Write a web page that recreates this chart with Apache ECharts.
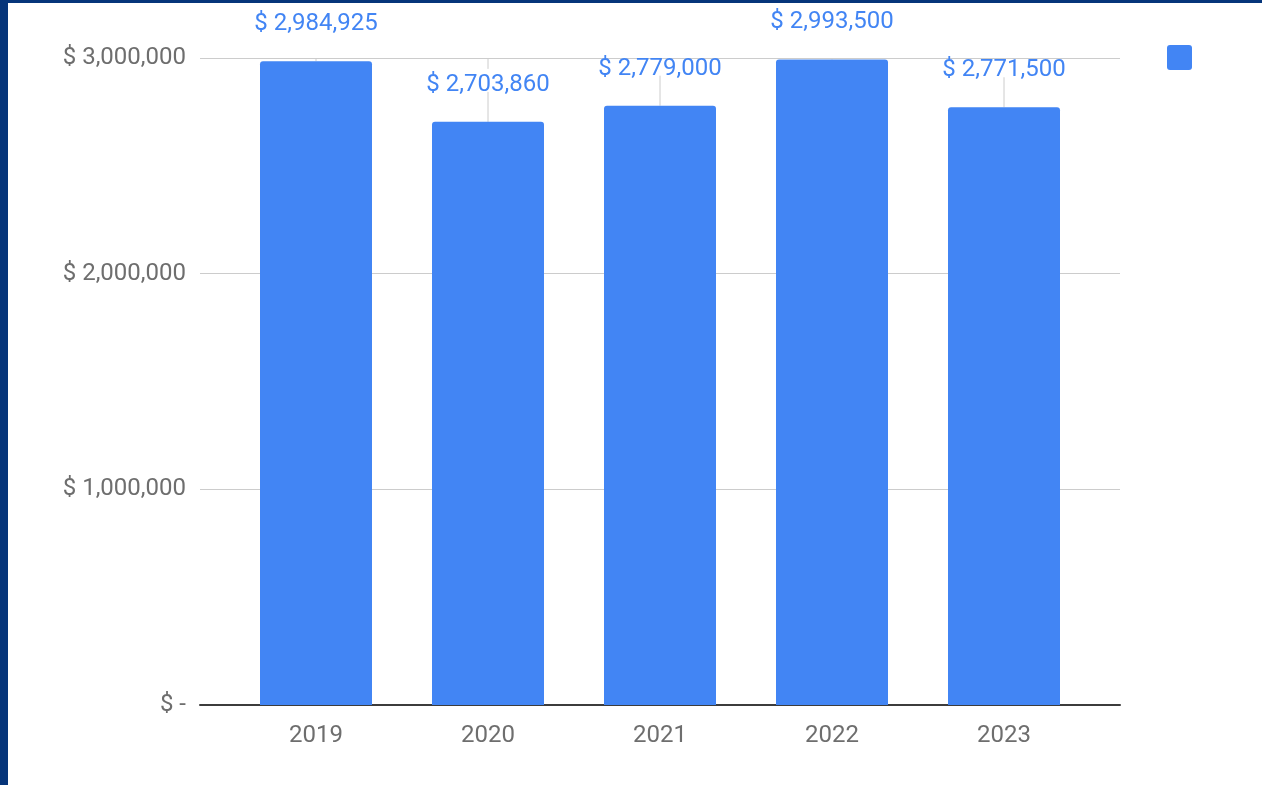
<!DOCTYPE html>
<html>
<head>
<meta charset="utf-8">
<script src="https://cdn.jsdelivr.net/npm/echarts@6/dist/echarts.min.js"></script>
<style>
html,body{margin:0;padding:0;background:#fff;}
#chart{width:1262px;height:785px;}
</style>
</head>
<body>
<div id="chart"></div>
<script>
const categories = ['2019', '2020', '2021', '2022', '2023'];
const values = [2984925, 2703860, 2779000, 2993500, 2771500];
const yTicks = [0, 1000000, 2000000, 3000000];
const seriesName = ' ';

const yMin = yTicks[0];
const yMax = yTicks[yTicks.length - 1];
const yStep = yTicks[1] - yTicks[0];

function money(v) {
  return v === 0 ? '$ -' : '$ ' + v.toLocaleString('en-US');
}

const chart = echarts.init(document.getElementById('chart'), null, { renderer: 'canvas' });
const font = 'Roboto, "Noto Sans", sans-serif';

chart.setOption({
  backgroundColor: '#ffffff',
  animation: false,
  textStyle: { fontFamily: font },
  graphic: [
    { type: 'rect', left: 0, top: 0, shape: { width: 8, height: 785 }, style: { fill: '#06357a' }, z: 100 },
    { type: 'rect', left: 0, top: 0, shape: { width: 1262, height: 3 }, style: { fill: '#06357a' }, z: 100 }
  ],
  legend: {
    left: 1162,
    top: 40,
    itemWidth: 25,
    itemHeight: 25,
    icon: 'path://M3,0H22Q25,0,25,3V22Q25,25,22,25H3Q0,25,0,22V3Q0,0,3,0Z',
    data: [seriesName],
    formatter: function () { return ''; },
    selectedMode: false
  },
  grid: [
    { left: 200, right: 142, top: 58, bottom: 80 },
    { left: 230, right: 172, top: 58, bottom: 80 }
  ],
  xAxis: [
    {
      type: 'category', gridIndex: 0, data: categories,
      axisLine: { show: true, lineStyle: { color: '#3c3c3c', width: 2 } },
      axisTick: { show: false }, axisLabel: { show: false }, splitLine: { show: false }
    },
    {
      type: 'category', gridIndex: 1, data: categories,
      axisLine: { show: false }, axisTick: { show: false },
      axisLabel: { color: '#6e6e6e', fontSize: 24, margin: 19, fontFamily: font, interval: 0 },
      splitLine: { show: false }
    }
  ],
  yAxis: [
    {
      type: 'value', gridIndex: 0, min: yMin, max: yMax, interval: yStep,
      axisLine: { show: false }, axisTick: { show: false },
      axisLabel: { color: '#6e6e6e', fontSize: 24, margin: 14, fontFamily: font, formatter: money, padding: [3, 0, 0, 0] },
      splitLine: { show: true, lineStyle: { color: '#cccccc', width: 1 } }
    },
    {
      type: 'value', gridIndex: 1, min: yMin, max: yMax, interval: yStep,
      show: false, splitLine: { show: false }
    }
  ],
  series: [
    {
      type: 'custom',
      xAxisIndex: 1, yAxisIndex: 1,
      z: 1,
      silent: true,
      data: categories.map((c, i) => [i, values[i]]),
      renderItem: function (params, api) {
        const x = api.value(0);
        const v = api.value(1);
        const top = api.coord([x, yMax]);
        const bar = api.coord([x, v]);
        const lblTop = bar[1] - 53;
        const lblBot = bar[1] - 30;
        const children = [];
        const st = { stroke: '#cccccc', lineWidth: 1 };
        if (top[1] < lblTop) {
          children.push({ type: 'line', shape: { x1: top[0], y1: top[1], x2: top[0], y2: lblTop }, style: st });
        }
        const s = Math.max(top[1], lblBot);
        if (s < bar[1]) {
          children.push({ type: 'line', shape: { x1: top[0], y1: s, x2: top[0], y2: bar[1] }, style: st });
        }
        return { type: 'group', children: children };
      }
    },
    {
      name: seriesName,
      type: 'bar',
      xAxisIndex: 1, yAxisIndex: 1,
      z: 2,
      barWidth: 112,
      data: values,
      itemStyle: { color: '#4285f4', borderRadius: [3, 3, 0, 0] },
      label: {
        show: true,
        position: 'top',
        distance: 25,
        color: '#4285f4',
        fontSize: 24,
        lineHeight: 24,
        fontFamily: font,
        formatter: function (p) { return money(p.value); }
      }
    }
  ]
});
</script>
</body>
</html>
